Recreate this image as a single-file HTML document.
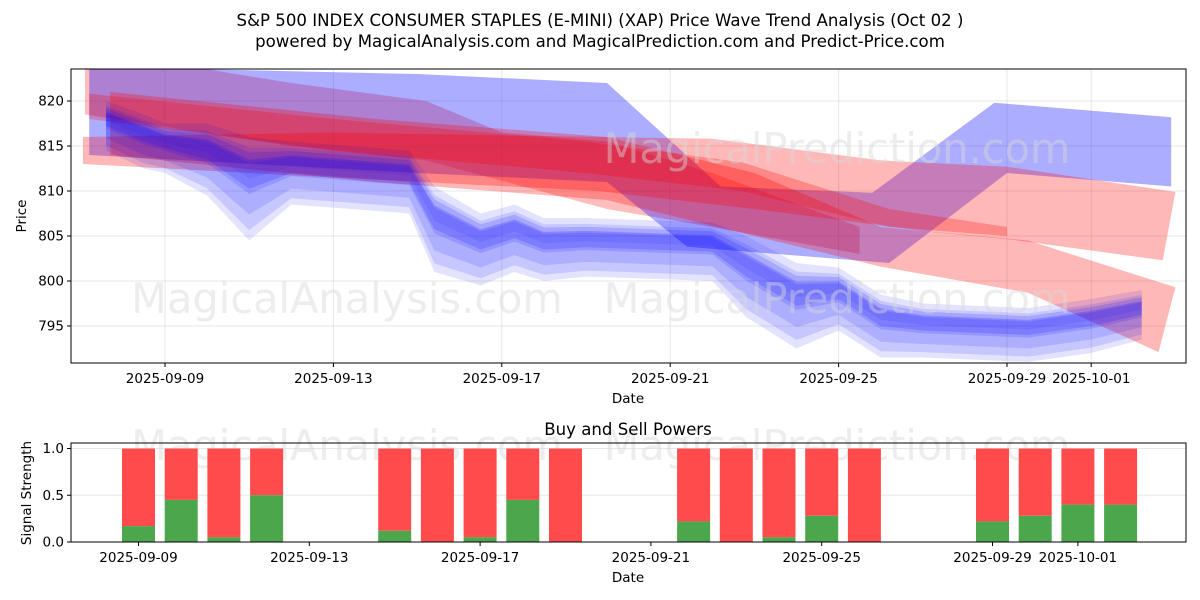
<!DOCTYPE html>
<html><head><meta charset="utf-8">
<style>
html,body{margin:0;padding:0;background:#fff;}
svg{display:block;font-family:"DejaVu Sans","Liberation Sans",sans-serif;}
</style></head>
<body>
<svg id="chart" width="1200" height="600" viewBox="0 0 1200 600" xmlns="http://www.w3.org/2000/svg">
<rect width="1200" height="600" fill="#fff"/>
<text x="600" y="26" font-size="16.6" text-anchor="middle" fill="#000">S&amp;P 500 INDEX CONSUMER STAPLES (E-MINI) (XAP) Price Wave Trend Analysis (Oct 02 )</text>
<text x="600" y="47" font-size="16.6" text-anchor="middle" fill="#000">powered by MagicalAnalysis.com and MagicalPrediction.com and Predict-Price.com</text>
<g id="topPanel"></g>
<g id="bottomPanel"></g>
</svg>
<script>
// ---------- data ----------
const priceTicks = [795, 800, 805, 810, 815, 820];
const topDateTicks = ["2025-09-09","2025-09-13","2025-09-17","2025-09-21","2025-09-25","2025-09-29","2025-10-01"];
const topDateTickDays = [0, 4, 8, 12, 16, 20, 22];
const bigBlueUpperDays = [-1.8, 6, 10.5, 13.2, 16.8, 19.7, 23.9];
const bigBlueUpper = [823.8, 823, 822, 810.5, 809.8, 819.8, 818.2];
const bigBlueLowerDays = [-1.8, 6, 10.5, 12.4, 17.2, 20, 23.9];
const bigBlueLower = [814, 812, 811, 803.8, 802, 812, 810.5];
const red1UpperDays = [-1.95, 4, 10.3, 13, 17, 20, 24];
const red1Upper = [816, 816.5, 816, 815.8, 813.4, 812.7, 809.9];
const red1LowerDays = [-1.95, 4, 10.3, 14, 18.3, 20.1, 23.7];
const red1Lower = [813, 811.5, 810, 808, 805.4, 804.6, 802.3];
const red2UpperDays = [-1.3, 5, 10.5, 14, 17, 20.5, 24];
const red2Upper = [821, 818, 816, 812, 806, 804.5, 799.3];
const red2LowerDays = [-1.3, 5, 10.5, 14, 17, 20.5, 23.6];
const red2Lower = [814, 811, 809, 805, 801.6, 798.7, 792.1];
const red3Days = [-1.8, 4, 10, 13.7, 17.2, 20];
const red3Upper = [820.8, 818, 815.5, 813.2, 808, 806];
const red3Lower = [818, 814.5, 812, 810, 806, 805];
const red4UpperDays = [-1.9, 0.9, 3, 6.2, 8, 10.5, 13, 16.5];
const red4Upper = [823.6, 823.6, 822, 820, 816.5, 815.5, 812, 806];
const red4LowerDays = [-1.9, 3, 6.2, 10.5, 13, 16.5];
const red4Lower = [818.5, 815, 813.4, 808, 806, 803];
const pathDays = [-1.4, -0.5, 0, 1, 2, 3, 5.8, 6.4, 7.5, 8.3, 9, 10, 13, 13.8, 15, 16, 17, 18, 20.5, 22, 23.2];
const pathClose = [817.5, 815.5, 814.5, 814.5, 813, 813, 812, 805.5, 803.5, 805, 803.5, 803.8, 803.4, 801, 798.3, 798, 794.5, 794, 793, 794.5, 796];
const pathLow = [814.5, 812.5, 812, 809.5, 804.5, 808.5, 807.5, 801, 799.5, 801, 800, 800.5, 800, 796, 792.5, 794.5, 791.5, 791.5, 791, 792, 793.5];
const pathHigh = [820, 818.5, 817.5, 817.5, 816, 815.5, 814.5, 810.5, 807.5, 808.5, 807, 807, 806.5, 805, 802, 801.5, 798.5, 797.5, 797, 798, 799];
const barDays = [0,1,2,3,6,7,8,9,10,13,14,15,16,17,20,21,22,23];
const buyPower = [0.17,0.45,0.05,0.5,0.12,0,0.05,0.45,0,0.22,0,0.05,0.28,0,0.22,0.28,0.4,0.4];
const powerTicks = [0.0, 0.5, 1.0];

// ---------- geometry ----------
const NS = "http://www.w3.org/2000/svg";
const T = {l:71, r:1186, t:69, b:363};
const B = {l:71, r:1186, t:443, b:542};
const xTop = d => 165 + d * 42.1;
const yTop = p => 101 + (820 - p) * 9;
const xBot = d => 138.5 + d * 42.7;
const yBot = v => 542 - v * 93.5;
const FS = 13.5;

function mk(tag, attrs, parent){ const e=document.createElementNS(NS,tag); for(const k in attrs) e.setAttribute(k,attrs[k]); parent.appendChild(e); return e; }

const topG = document.getElementById('topPanel');
const botG = document.getElementById('bottomPanel');

const defs = mk('defs',{},document.getElementById('chart'));
const cp = mk('clipPath',{id:'clipTop'},defs);
mk('rect',{x:T.l,y:T.t,width:T.r-T.l,height:T.b-T.t},cp);

priceTicks.forEach(p=>{
  const g = mk('line',{x1:T.l,x2:T.r,y1:yTop(p),y2:yTop(p),stroke:'#b0b0b0','stroke-opacity':0.3,'stroke-width':1},topG);
  
  
});
topDateTickDays.forEach(d=>{
  const g = mk('line',{x1:xTop(d),x2:xTop(d),y1:T.t,y2:T.b,stroke:'#b0b0b0','stroke-opacity':0.3,'stroke-width':1},topG);
  
  
});

function wm(x,y,txt,parent){
  const t = mk('text',{x:x,y:y,'font-size':41.5,fill:'#d8d8d8','fill-opacity':0.45,'text-anchor':'middle'},parent);
  t.textContent = txt;
  
  
}

const waves = mk('g',{'clip-path':'url(#clipTop)'},topG);



function band(ud, up, ld, lo, color, op, name){
  let pts = ud.map((d,i)=>xTop(d)+','+yTop(up[i]));
  for(let i=ld.length-1;i>=0;i--) pts.push(xTop(ld[i])+','+yTop(lo[i]));
  const e = mk('polygon',{points:pts.join(' '),fill:color,'fill-opacity':op,'stroke':'none'},waves);
  
  
}

band(red4UpperDays,red4Upper,red4LowerDays,red4Lower,'#ff0000',0.26,'red-wave-band');
band(bigBlueUpperDays,bigBlueUpper,bigBlueLowerDays,bigBlueLower,'#0000ff',0.32,'blue-wave-band');
band(red2UpperDays,red2Upper,red2LowerDays,red2Lower,'#ff0000',0.28,'red-wave-band');
band(red1UpperDays,red1Upper,red1LowerDays,red1Lower,'#ff0000',0.28,'red-wave-band');
band(red3Days,red3Upper,red3Days,red3Lower,'#ff0000',0.26,'red-wave-band');

const mixes = [[0.0,1.0,0.11],[0.25,0.9,0.12],[0.45,0.75,0.14],[0.1,0.6,0.12],[0.5,0.85,0.16],[0.6,0.78,0.2]];
mixes.forEach(m=>{
  const lo = pathLow.map((v,i)=> v + (pathHigh[i]-v)*m[0]);
  const hi = pathLow.map((v,i)=> v + (pathHigh[i]-v)*m[1]);
  band(pathDays,hi,pathDays,lo,'#0000ff',m[2],'blue-price-wave');
});
wm(347,313,'MagicalAnalysis.com',topG);
wm(837,163,'MagicalPrediction.com',topG);
wm(837,313,'MagicalPrediction.com',topG);

const ft = mk('rect',{x:T.l,y:T.t,width:T.r-T.l,height:T.b-T.t,fill:'none',stroke:'#000','stroke-width':1},topG);



priceTicks.forEach(p=>{
  mk('line',{x1:T.l-4,x2:T.l,y1:yTop(p),y2:yTop(p),stroke:'#000'},topG);
  const t = mk('text',{x:T.l-7,y:yTop(p)+4.5,'font-size':FS,'text-anchor':'end'},topG);
  t.textContent = p;
  
  
});
topDateTickDays.forEach((d,i)=>{
  mk('line',{x1:xTop(d),x2:xTop(d),y1:T.b,y2:T.b+4,stroke:'#000'},topG);
  const t = mk('text',{x:xTop(d),y:T.b+20,'font-size':FS,'text-anchor':'middle'},topG);
  t.textContent = topDateTicks[i];
  
  
});
let t1 = mk('text',{x:628,y:403,'font-size':FS,'text-anchor':'middle'},topG);
t1.textContent='Date';


let t2 = mk('text',{x:26,y:216,'font-size':FS,'text-anchor':'middle',transform:'rotate(-90 26 216)'},topG);
t2.textContent='Price';



powerTicks.forEach(v=>{
  const g = mk('line',{x1:B.l,x2:B.r,y1:yBot(v),y2:yBot(v),stroke:'#b0b0b0','stroke-opacity':0.3},botG);
  
  
});
wm(347,460,'MagicalAnalysis.com',botG);
wm(837,460,'MagicalPrediction.com',botG);
barDays.forEach((d,i)=>{
  const x = xBot(d)-16.5;
  const r = mk('rect',{x:x,y:yBot(1),width:33,height:yBot(buyPower[i])-yBot(1),fill:'#ff4b4b'},botG);
  
  
  const g = mk('rect',{x:x,y:yBot(buyPower[i]),width:33,height:yBot(0)-yBot(buyPower[i]),fill:'#4ca64c'},botG);
  
  
});
const fb = mk('rect',{x:B.l,y:B.t,width:B.r-B.l,height:B.b-B.t,fill:'none',stroke:'#000','stroke-width':1},botG);


powerTicks.forEach(v=>{
  mk('line',{x1:B.l-4,x2:B.l,y1:yBot(v),y2:yBot(v),stroke:'#000'},botG);
  const t = mk('text',{x:B.l-7,y:yBot(v)+4.5,'font-size':FS,'text-anchor':'end'},botG);
  t.textContent = v.toFixed(1);
  
  
});
topDateTickDays.forEach((d,i)=>{
  mk('line',{x1:xBot(d),x2:xBot(d),y1:B.b,y2:B.b+4,stroke:'#000'},botG);
  const t = mk('text',{x:xBot(d),y:B.b+20,'font-size':FS,'text-anchor':'middle'},botG);
  t.textContent = topDateTicks[i];
  
  
});
let t3 = mk('text',{x:628,y:582,'font-size':FS,'text-anchor':'middle'},botG);
t3.textContent='Date';


let t4 = mk('text',{x:31,y:493,'font-size':FS,'text-anchor':'middle',transform:'rotate(-90 31 493)'},botG);
t4.textContent='Signal Strength';


let t5 = mk('text',{x:628,y:435,'font-size':16.6,'text-anchor':'middle'},botG);
t5.textContent='Buy and Sell Powers';


</script>
</body></html>
